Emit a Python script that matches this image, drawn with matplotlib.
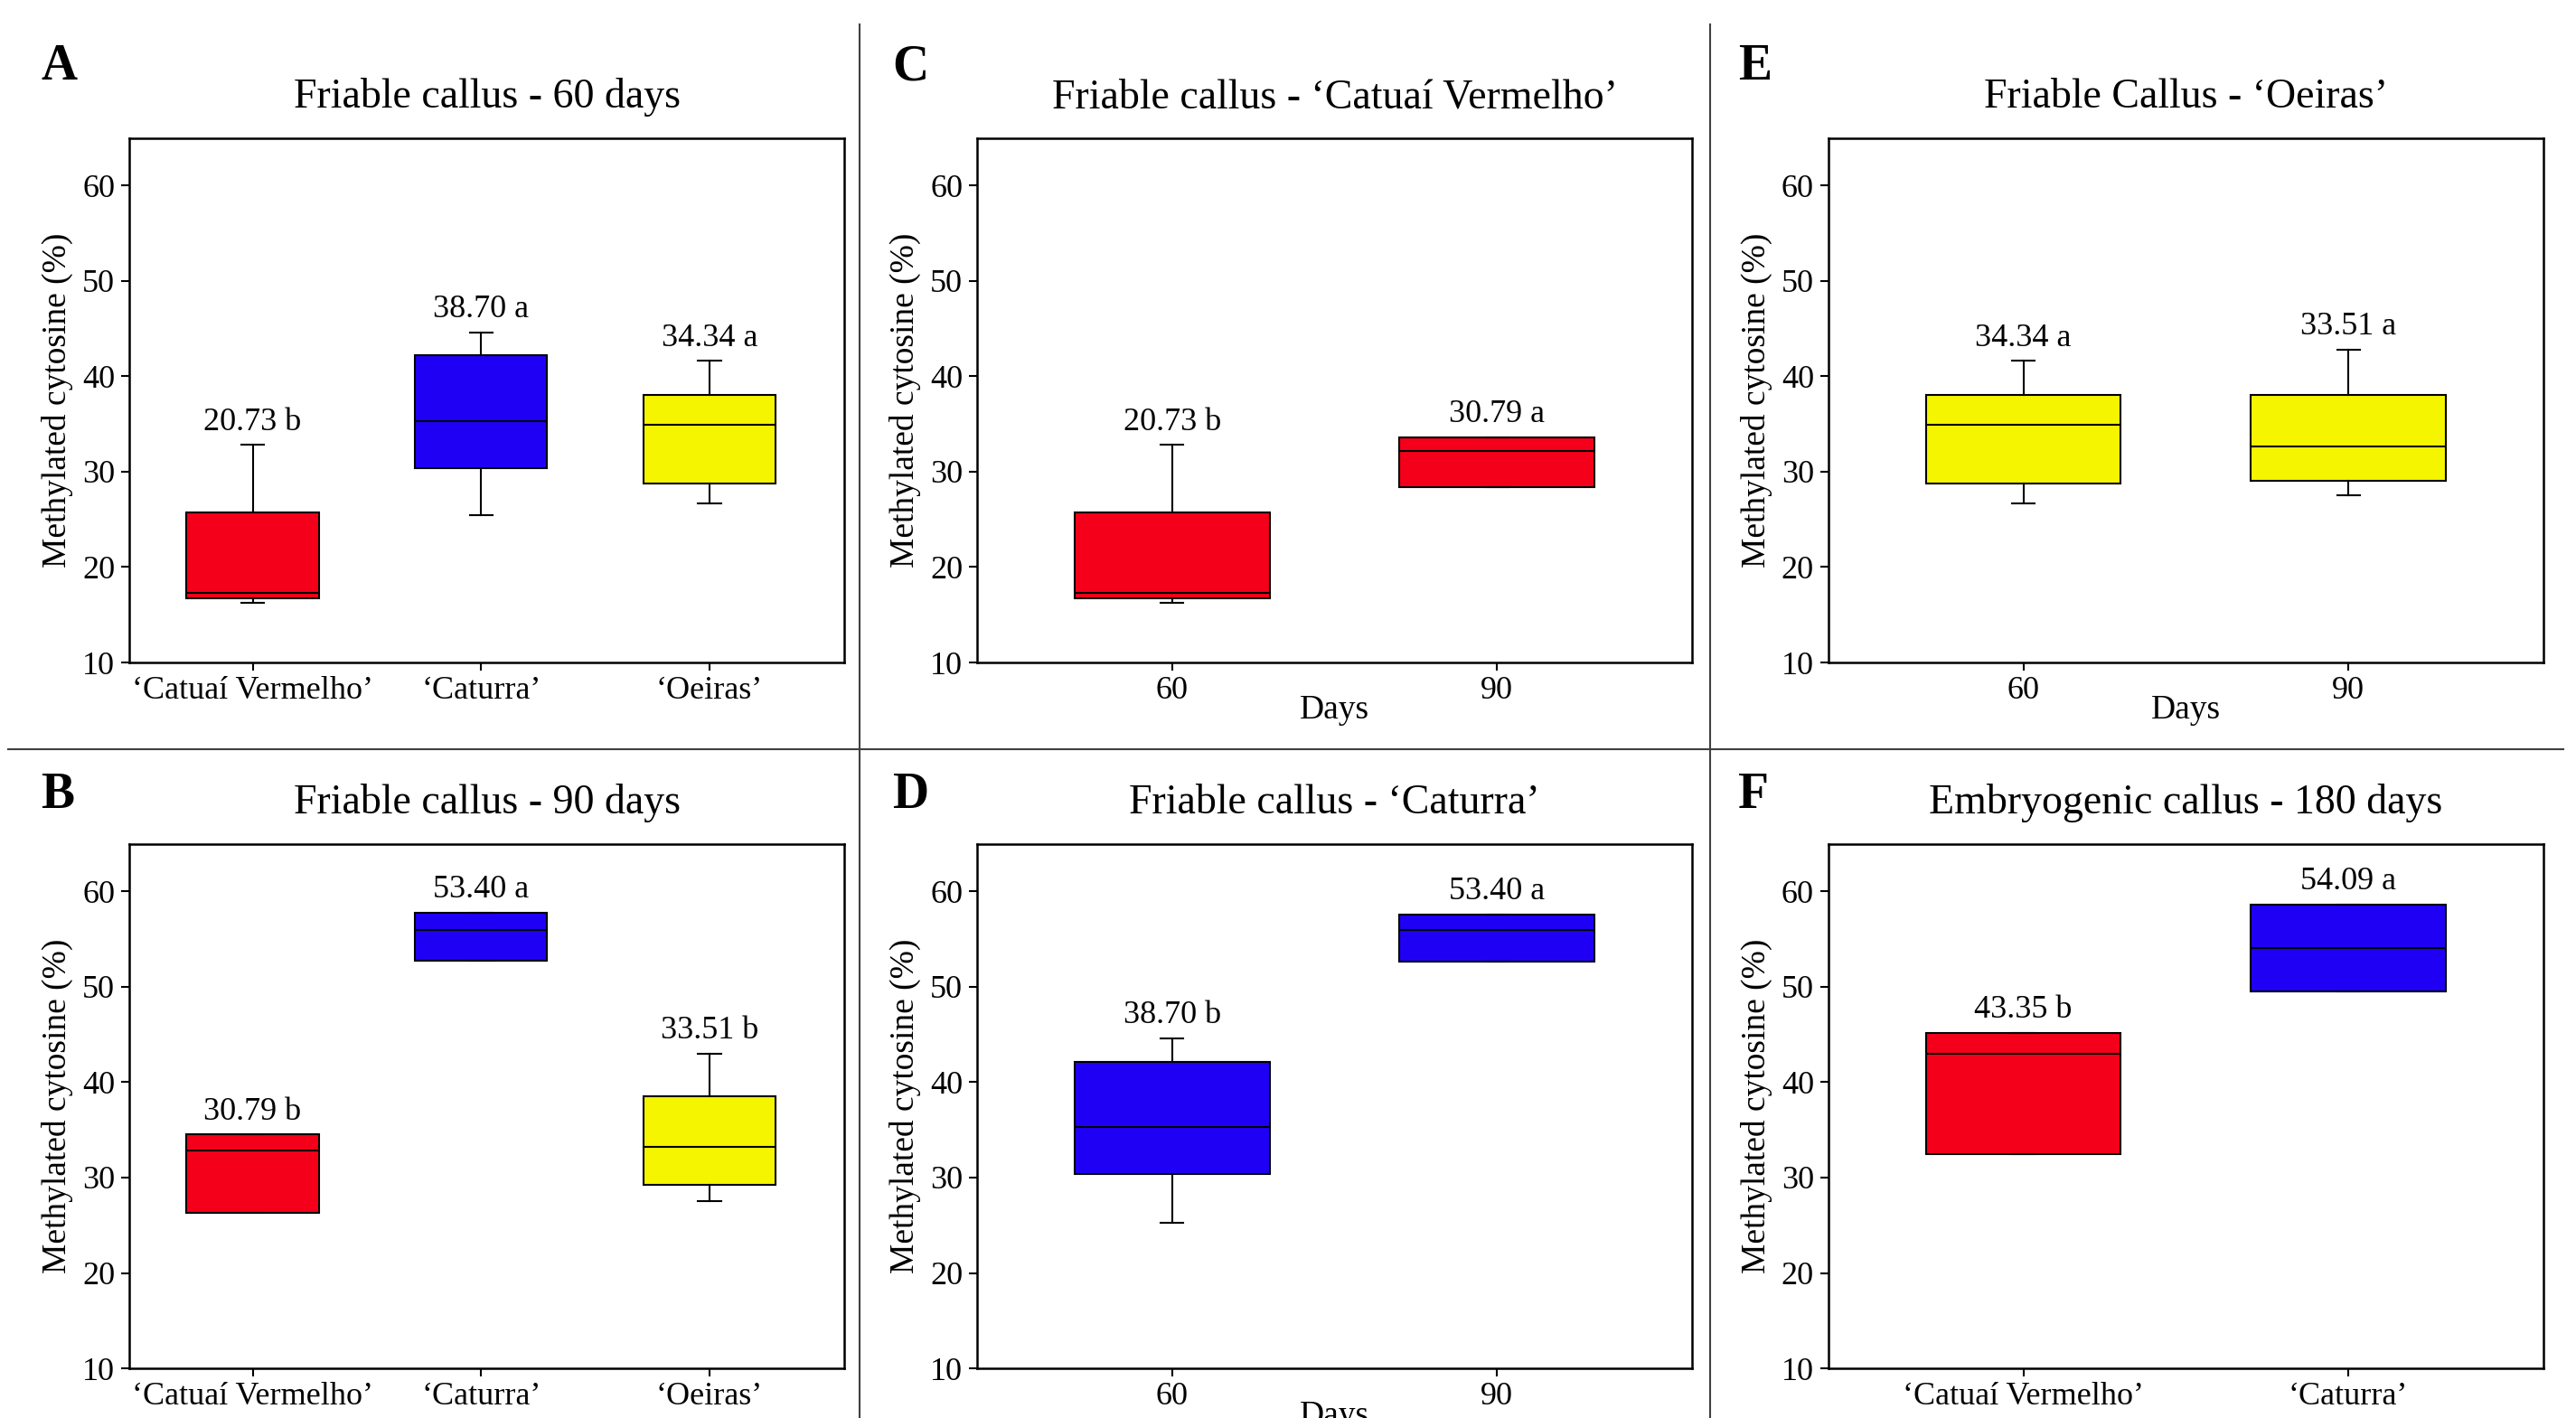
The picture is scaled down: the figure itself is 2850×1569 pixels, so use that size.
import matplotlib
matplotlib.use('Agg')
import matplotlib.pyplot as plt
from matplotlib.lines import Line2D

plt.rcParams['font.family'] = ['Liberation Serif', 'DejaVu Serif']

# box summaries: whislo, q1, median, q3, whishi
cultivars_3 = ['‘Catuaí Vermelho’', '‘Caturra’', '‘Oeiras’']
cultivars_2 = ['‘Catuaí Vermelho’', '‘Caturra’']
days = ['60', '90']

box_a = [[16.3, 16.7, 17.3, 25.7, 32.8],
         [25.4, 30.4, 35.3, 42.2, 44.6],
         [26.7, 28.8, 34.9, 38.0, 41.6]]
lab_a = ['20.73 b', '38.70 a', '34.34 a']

box_b = [[26.3, 26.3, 32.8, 34.5, 34.5],
         [52.7, 52.7, 56.0, 57.8, 57.8],
         [27.5, 29.2, 33.2, 38.5, 43.0]]
lab_b = ['30.79 b', '53.40 a', '33.51 b']

box_c = [[16.3, 16.7, 17.3, 25.7, 32.8],
         [28.4, 28.4, 32.2, 33.6, 33.6]]
lab_c = ['20.73 b', '30.79 a']

box_d = [[25.3, 30.4, 35.3, 42.1, 44.6],
         [52.6, 52.6, 56.0, 57.6, 57.6]]
lab_d = ['38.70 b', '53.40 a']

box_e = [[26.7, 28.8, 34.9, 38.0, 41.6],
         [27.5, 29.0, 32.6, 38.0, 42.8]]
lab_e = ['34.34 a', '33.51 a']

box_f = [[32.5, 32.5, 43.0, 45.2, 45.2],
         [49.5, 49.5, 54.05, 58.6, 58.6]]
lab_f = ['43.35 b', '54.09 a']

RED = '#f5001a'
BLUE = '#2000f5'
YELLOW = '#f5f500'


def draw_panel(ax, rows, texts, ticks, colors, title, xlabel=None):
	n = len(rows)
	pos = list(range(1, n + 1))
	stats = [dict(whislo=r[0], q1=r[1], med=r[2], q3=r[3], whishi=r[4]) for r in rows]
	lw = 1.5
	bp = ax.bxp(stats, positions=pos,
		widths=0.58 if n == 3 else 0.6,
		capwidths=0.1 if n == 3 else 0.07,
		patch_artist=True, showfliers=False,
		boxprops=dict(edgecolor='black', linewidth=lw),
		medianprops=dict(color='black', linewidth=lw),
		whiskerprops=dict(color='black', linewidth=lw),
		capprops=dict(color='black', linewidth=lw))
	for patch, c in zip(bp['boxes'], colors):
		patch.set_facecolor(c)
	for x, r, t in zip(pos, rows, texts):
		ax.annotate(t, (x, r[4]), xytext=(0, 12), textcoords='offset points',
			ha='center', va='baseline', fontsize=26)
	ax.set_ylim(10, 65)
	ax.set_yticks([10, 20, 30, 40, 50, 60])
	if n == 3:
		ax.set_xlim(0.46, 3.59)
	else:
		ax.set_xlim(0.4, 2.6)
	ax.set_xticks(pos)
	ax.set_xticklabels(ticks, fontsize=26)
	ax.tick_params(axis='y', labelsize=26, length=6.5, width=1.5, pad=5)
	ax.tick_params(axis='x', length=6.5, width=1.5, pad=4)
	for s in ax.spines.values():
		s.set_linewidth(1.8)
	ax.set_ylabel('Methylated cytosine (%)', fontsize=27, labelpad=7)
	ax.set_title(title, fontsize=33, pad=24)
	if xlabel:
		ax.set_xlabel(xlabel, fontsize=27, labelpad=-9)


fig = plt.figure(figsize=(28.5, 15.69), dpi=100)

lefts = [0.0502, 0.3793, 0.7098]
bottoms = [0.5328, 0.0350]
w, h = 0.2775, 0.370

panels = [
	('A', 0, 0, box_a, lab_a, cultivars_3, [RED, BLUE, YELLOW], 'Friable callus - 60 days', None),
	('B', 0, 1, box_b, lab_b, cultivars_3, [RED, BLUE, YELLOW], 'Friable callus - 90 days', None),
	('C', 1, 0, box_c, lab_c, days, [RED, RED], 'Friable callus - ‘Catuaí Vermelho’', 'Days'),
	('D', 1, 1, box_d, lab_d, days, [BLUE, BLUE], 'Friable callus - ‘Caturra’', 'Days'),
	('E', 2, 0, box_e, lab_e, days, [YELLOW, YELLOW], 'Friable Callus - ‘Oeiras’', 'Days'),
	('F', 2, 1, box_f, lab_f, cultivars_2, [RED, BLUE], 'Embryogenic callus - 180 days', None),
]

letter_x = [0.0158, 0.3463, 0.6747]
letter_y = [0.9694, 0.4557]

for letter, col, row, rows, texts, ticks, colors, title, xlabel in panels:
	ax = fig.add_axes([lefts[col], bottoms[row], w, h])
	draw_panel(ax, rows, texts, ticks, colors, title, xlabel)
	fig.text(letter_x[col], letter_y[row], letter, fontsize=40, fontweight='bold',
		ha='left', va='top')

# panel separators
line_kw = dict(transform=fig.transFigure, color='#404040', linewidth=1.5)
fig.add_artist(Line2D([0.3337, 0.3337], [0.0, 0.983], **line_kw))
fig.add_artist(Line2D([0.6640, 0.6640], [0.0, 0.983], **line_kw))
fig.add_artist(Line2D([0.003, 0.995], [0.4716, 0.4716], **line_kw))

fig.savefig('out.png', dpi=100)
